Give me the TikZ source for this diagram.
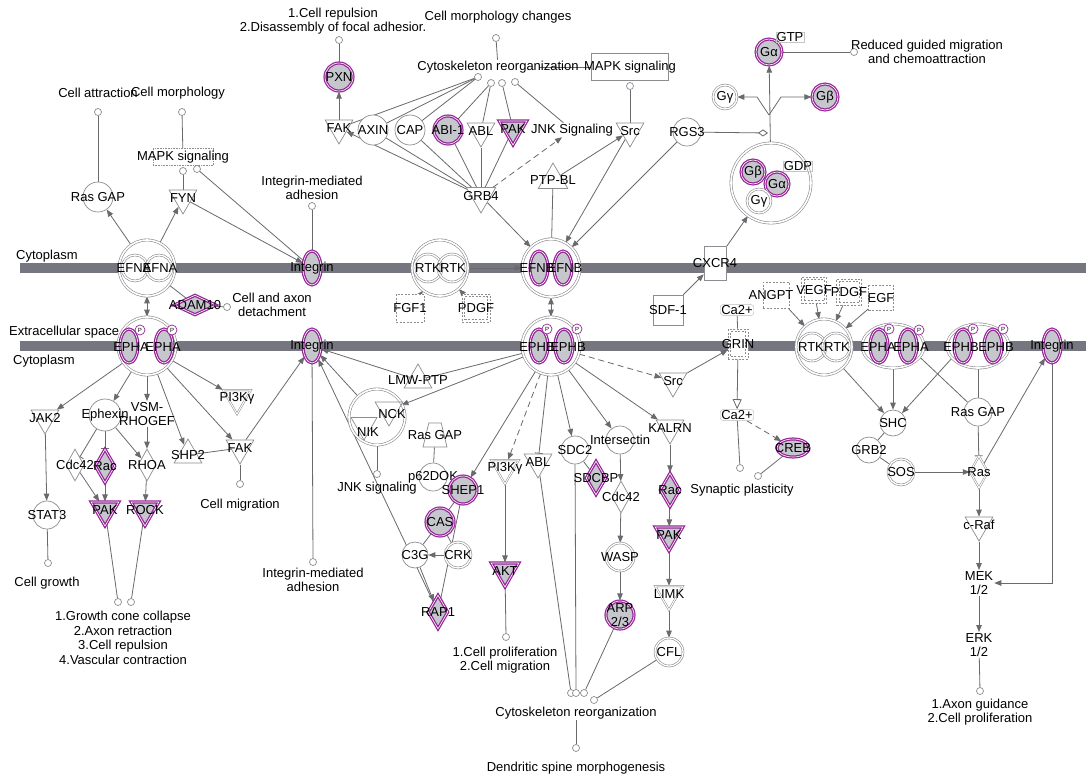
\documentclass[tikz,border=0pt]{standalone}
\usepackage{fontspec}
\setmainfont{Liberation Sans}
\usetikzlibrary{shapes.geometric,arrows.meta}
\definecolor{ngray}{RGB}{140,140,145}
\definecolor{egray}{RGB}{105,105,110}
\definecolor{purp}{RGB}{150,38,152}
\definecolor{fillg}{RGB}{198,198,205}
\definecolor{barc}{RGB}{118,118,128}
\newcommand\fs{\fontsize{13}{14.5}\selectfont}
\pgfdeclarelayer{bars}\pgfdeclarelayer{edges}\pgfsetlayers{bars,edges,main}
\begin{document}
\begin{tikzpicture}[x=1pt,y=-1pt,
  lbl/.style={inner sep=0pt, align=center, font=\fs, text=black},
  nl/.style={label={[lbl]center:#1}},
  txt/.style={inner sep=1pt, align=center, font=\fs, text=black},
  gc/.style={circle, draw=ngray, fill=white, line width=0.7pt, minimum size=#1, inner sep=0pt},
  gc/.default=28pt,
  dc/.style={gc=#1, double=white, double distance=1.3pt, line width=0.6pt},
  dc/.default=26pt,
  pc/.style={circle, draw=purp, fill=fillg, double=white, double distance=0.6pt, line width=1.25pt, minimum size=#1, inner sep=0pt},
  pc/.default=28pt,
  td/.style={regular polygon, regular polygon sides=3, shape border rotate=180, draw=ngray, fill=white, line width=0.7pt, minimum size=#1, inner sep=0pt},
  td/.default=34pt,
  tu/.style={regular polygon, regular polygon sides=3, draw=ngray, fill=white, line width=0.7pt, minimum size=#1, inner sep=0pt},
  tu/.default=34pt,
  ptd/.style={td=#1, draw=purp, fill=fillg, double=white, double distance=0.6pt, line width=1.25pt},
  ptd/.default=34pt,
  dm/.style={diamond, draw=ngray, fill=white, line width=0.7pt, minimum width=18pt, minimum height=32pt, inner sep=0pt},
  pdm/.style={dm, draw=purp, fill=fillg, double=white, double distance=0.6pt, line width=1.25pt, minimum width=20pt, minimum height=34pt},
  bx/.style={rectangle, draw=ngray, fill=white, line width=0.6pt, inner sep=0pt},
  ibx/.style={rectangle, draw=ngray, fill=none, line width=0.5pt, inner sep=0pt, dash pattern=on 2pt off 1.5pt},
  cx/.style={circle, draw=ngray, fill=white, line width=0.6pt, double=white, double distance=1.6pt, minimum size=#1, inner sep=0pt},
  cxe/.style={ellipse, draw=ngray, fill=white, line width=0.6pt, double=white, double distance=1.6pt, minimum width=62pt, minimum height=44pt, inner sep=0pt},
  pell/.style={ellipse, draw=purp, fill=fillg, double=white, double distance=0.6pt, line width=1.25pt, minimum width=18pt, minimum height=34pt, inner sep=0pt},
  pp/.style={circle, draw=purp, fill=white, line width=0.7pt, minimum size=10pt, inner sep=0pt, label={[inner sep=0pt, font=\fontsize{6}{6}\selectfont]center:P}},
  term/.style={circle, draw=ngray, fill=white, line width=0.7pt, minimum size=7pt, inner sep=0pt},
  rbx/.style={rectangle, rounded corners=3pt, draw=ngray!60, fill=white, inner sep=1pt, font=\fs},
  eL/.style={draw=egray, line width=0.8pt},
  eA/.style={eL, -{Triangle[length=7pt,width=5.5pt]}},
  eD/.style={eA, dash pattern=on 6pt off 4pt},
  eI/.style={eL, -{Bar[width=8pt]}},
  eB/.style={eL, {Triangle[length=7pt,width=5.5pt]}-{Triangle[length=7pt,width=5.5pt]}},
  eO/.style={eL, -{Triangle[open,length=10pt,width=9pt]}},
  eM/.style={eL, -{Diamond[open,length=10pt,width=7pt]}}
]
\useasboundingbox (0,0) rectangle (1088,780);
\begin{pgfonlayer}{bars}
\fill[white] (0,0) rectangle (1088,780);
\fill[barc] (20,263) rectangle (1086,273);
\fill[barc] (20,341) rectangle (1086,351);
\end{pgfonlayer}

% ---------- compartment labels
\node[txt, anchor=west] (cyt1) at (15,256) {Cytoplasm};
\node[txt, anchor=west] (ecs) at (8,332) {Extracellular space};
\node[txt, anchor=west] (cyt2) at (12,361) {Cytoplasm};

% ---------- top left
\node[txt] (tca) at (98,93) {Cell attraction};
\node[txt] (tcm) at (178,93) {Cell morphology};
\node[term] (oca) at (98,112) {};
\node[term] (ocm) at (182,112) {};
\node[gc=30pt, nl=Ras GAP] (rasgapL) at (98,197) {};
\node[bx, densely dotted, minimum width=60pt, minimum height=17pt, nl=MAPK signaling] (mapkL) at (183,157) {};
\node[term] (om1) at (183,171) {};
\node[term] (om2) at (197,169) {};
\node[td=32pt, nl=FYN] (fyn) at (183,198) {};
\node[txt] (tima) at (312,188) {Integrin-mediated\\adhesion};
\node[term] (oima) at (312,206) {};
\node[pell, nl=Integrin] (intT) at (312,268) {};

% EFNA complex
\node[cx=56pt] (efna) at (147,268) {};
\node[dc=26pt, fill=none] (efna1) at (135,268) {};
\node[dc=26pt, fill=none] (efna2) at (159,268) {};
\node[lbl] (efnal1) at (134,268) {EFNA};
\node[lbl] (efnal2) at (160,268) {EFNA};
\node[pdm, minimum width=42pt, minimum height=20pt, nl=ADAM10] (adam10) at (195,305) {};
\node[term] (ocad) at (227,307) {};
\node[txt] (tcad) at (272,305) {Cell and axon\\detachment};

% EPHA complex left
\node[cx=58pt] (epha) at (147,346) {};
\node[pell] (epha1) at (129,346) {};
\node[pell] (epha2) at (164,346) {};
\node[pp] (ephap1) at (140,330) {};
\node[pp] (ephap2) at (172,330) {};
\node[lbl] (ephal1) at (131,347) {EPHA};
\node[lbl] (ephal2) at (163,347) {EPHA};
\node[pell, nl=Integrin] (intB) at (312,346) {};

\node[td=32pt, nl=JAK2] (jak2) at (45,418) {};
\node[gc=32pt, nl=Ephexin] (ephexin) at (105,415) {};
\node[txt] (vsm) at (147,414) {VSM-\\RHOGEF};
\node[td=32pt, double=white, double distance=1pt, line width=0.5pt, nl=PI3Kγ] (pi3kL) at (237,398) {};
\node[tu=32pt, nl=SHP2] (shp2) at (188,455) {};
\node[td=32pt, nl=FAK] (fakL) at (240,448) {};
\node[term] (ocmig) at (240,484) {};
\node[txt] (tcmig) at (240,505) {Cell migration};
\node[dm, nl=Cdc42] (cdc42L) at (75,465) {};
\node[pdm, nl=Rac] (racL) at (105,466) {};
\node[dm, nl=RHOA] (rhoa) at (147,465) {};
\node[ptd=32pt, nl=PAK] (pakL) at (105,510) {};
\node[ptd=32pt, nl=ROCK] (rock) at (145,510) {};
\node[gc=28pt, nl=STAT3] (stat3) at (47,515) {};
\node[term] (ocg) at (48,563) {};
\node[txt] (tcg) at (47,583) {Cell growth};
\node[term] (og1) at (118,602) {};
\node[term] (og2) at (131,602) {};
\node[txt] (tgc) at (123,638) {1.Growth cone collapse\\2.Axon retraction\\3.Cell repulsion\\4.Vascular contraction};
\node[term] (oimb) at (313,562) {};
\node[txt] (timb) at (313,580) {Integrin-mediated\\adhesion};

% ---------- top middle
\node[txt] (tcr) at (333,21) {1.Cell repulsion\\2.Disassembly of focal adhesior.};
\node[term] (ocr) at (339,40) {};
\node[pc=28pt, nl=PXN] (pxn) at (339,77) {};
\node[td=32pt, nl=FAK] (fakT) at (339,128) {};
\node[gc=30pt, nl=AXIN] (axin) at (373,130) {};
\node[gc=30pt, nl=CAP] (cap) at (410,130) {};
\node[pc=28pt, nl=ABI-1] (abi1) at (448,130) {};
\node[td=32pt, nl=ABL] (ablT) at (481,131) {};
\node[ptd=32pt, nl=PAK] (pakT) at (513,129) {};
\node[txt] (jnkS) at (572,130) {JNK Signaling};
\node[td=32pt, nl=Src] (srcT) at (630,131) {};
\node[gc=28pt, nl=RGS3] (rgs3) at (687,132) {};
\node[tu=34pt, nl=PTP-BL] (ptpbl) at (553,180) {};
\node[td=34pt, nl=GRB4] (grb4) at (481,196) {};
\node[txt] (tcmc) at (498,17) {Cell morphology changes};
\node[term] (ocmc) at (496,38) {};
\node[txt] (cytoT) at (498,67) {Cytoskeleton reorganization};
\coordinate (cytoTm) at (540,67);
\node[bx, minimum width=77pt, minimum height=27pt, nl=MAPK signaling] (mapkT) at (630,67) {};
\node[term] (c1) at (478,77) {};
\node[term] (c2) at (491,83) {};
\node[term] (c3) at (502,83) {};
\node[term] (c4) at (515,82) {};
\node[term] (omapkT) at (630,86) {};

% ---------- G protein
\node[cx=80pt] (gcomp) at (771,183) {};
\node[pc=24pt, nl=Gβ] (gb1) at (753,172) {};
\node[pc=24pt, nl=Gα] (ga1) at (777,184) {};
\node[dc=24pt, nl=Gγ] (gg1) at (759,201) {};
\node[txt, draw=ngray!50, inner sep=0.5pt] (gdp) at (798,166) {GDP};
\node[pc=26pt, nl=Gα] (ga2) at (769,52) {};
\node[txt, draw=ngray!50, inner sep=0.5pt] (gtp) at (790,37) {GTP};
\coordinate (gbr) at (769,115);
\coordinate (gdia) at (768,133);
\node[dc=24pt, nl=Gγ] (gg2) at (725,97) {};
\node[pc=26pt, nl=Gβ] (gb2) at (825,97) {};
\node[term] (orgm) at (854,52) {};
\node[txt] (trgm) at (927,52) {Reduced guided migration\\and chemoattraction};

% ---------- membrane middle
\node[bx, minimum width=22pt, minimum height=34pt, nl=CXCR4] (cxcr4) at (715,263) {};
\node[bx, minimum width=30pt, minimum height=30pt, nl=SDF-1] (sdf1) at (668,310) {};
\node[bx, dash pattern=on 2pt off 1.5pt, minimum width=28pt, minimum height=28pt, nl=FGF1] (fgf1) at (410,308) {};
\node[bx, dash pattern=on 2pt off 1.5pt, minimum width=28pt, minimum height=28pt] (pdgfT) at (476,308) {};
\node[ibx, minimum width=23pt, minimum height=23pt, nl=PDGF] (pdgfTi) at (476,308) {};
\node[cx=56pt] (rtkT) at (440,268) {};
\node[dc=28pt, fill=none] (rtkT1) at (428,268) {};
\node[dc=28pt, fill=none] (rtkT2) at (452,268) {};
\node[lbl] (rtkTl1) at (428,268) {RTK};
\node[lbl] (rtkTl2) at (453,268) {RTK};
\node[cx=58pt] (efnb) at (551,268) {};
\node[pell] (efnb1) at (539,268) {};
\node[pell] (efnb2) at (563,268) {};
\node[lbl] (efnbl1) at (537,268) {EFNB};
\node[lbl] (efnbl2) at (565,268) {EFNB};
\node[cx=58pt] (ephb) at (551,346) {};
\node[pell] (ephb1) at (539,346) {};
\node[pell] (ephb2) at (564,346) {};
\node[pp] (ephbp1) at (547,329) {};
\node[pp] (ephbp2) at (577,329) {};
\node[lbl] (ephbl1) at (537,347) {EPHB};
\node[lbl] (ephbl2) at (568,347) {EPHB};

% ---------- Ca / GRIN
\node[rbx] (ca1) at (737,310) {Ca2+};
\node[bx, dash pattern=on 2pt off 1.5pt, minimum width=20pt, minimum height=30pt] (grin) at (738,344) {};
\node[ibx, minimum width=15pt, minimum height=25pt, nl=GRIN] (grini) at (738,344) {};
\node[rbx] (ca2) at (737,415) {Ca2+};
\node[pell, minimum width=32pt, minimum height=18pt, nl=CREB] (creb) at (793,448) {};
\node[term] (osp1) at (740,468) {};
\node[term] (osp2) at (758,476) {};
\node[txt] (tsp) at (742,490) {Synaptic plasticity};
\node[td=32pt, nl=Src] (srcB) at (673,381) {};
\node[td=32pt, nl=KALRN] (kalrn) at (670,428) {};
\node[pdm, nl=Rac] (racM) at (670,490) {};
\node[ptd=32pt, nl=PAK] (pakM) at (669,535) {};
\node[td=32pt, double=white, double distance=1pt, line width=0.5pt, nl=LIMK] (limk) at (669,594) {};
\node[dc=28pt, nl=CFL] (cfl) at (669,652) {};

% ---------- right side
\node[bx, dash pattern=on 2pt off 1.5pt, minimum width=26pt, minimum height=26pt] (angpt) at (776,295) {};
\node[lbl] (angptl) at (771,295) {ANGPT};
\node[bx, dash pattern=on 2pt off 1.5pt, minimum width=25pt, minimum height=26pt] (vegf) at (814,290) {};
\node[ibx, minimum width=20pt, minimum height=21pt, nl=VEGF] (vegfi) at (814,290) {};
\node[bx, dash pattern=on 2pt off 1.5pt, minimum width=25pt, minimum height=26pt] (pdgfR) at (849,292) {};
\node[ibx, minimum width=20pt, minimum height=21pt, nl=PDGF] (pdgfRi) at (849,292) {};
\node[bx, dash pattern=on 2pt off 1.5pt, minimum width=25pt, minimum height=25pt, nl=EGF] (egf) at (881,298) {};
\node[cx=56pt] (rtkR) at (824,347) {};
\node[dc=28pt, fill=none] (rtkR1) at (812,347) {};
\node[dc=28pt, fill=none] (rtkR2) at (836,347) {};
\node[lbl] (rtkRl1) at (811,347) {RTK};
\node[lbl] (rtkRl2) at (837,347) {RTK};
\node[cxe] (ephaR) at (893,346) {};
\node[pell] (ephaR1) at (879,346) {};
\node[pell] (ephaR2) at (908,346) {};
\node[pp] (ephaRp1) at (889,329) {};
\node[pp] (ephaRp2) at (919,330) {};
\node[lbl] (ephaRl1) at (878,347) {EPHA};
\node[lbl] (ephaRl2) at (911,347) {EPHA};
\node[cxe] (ephbR) at (978,346) {};
\node[pell] (ephbR1) at (963,346) {};
\node[pell] (ephbR2) at (993,346) {};
\node[pp] (ephbRp1) at (973,329) {};
\node[pp] (ephbRp2) at (1003,329) {};
\node[lbl] (ephbRl1) at (961,347) {EPHB};
\node[lbl] (ephbRl2) at (996,347) {EPHB};
\node[pell, nl=Integrin] (intR) at (1052,346) {};
\node[gc=26pt, nl=SHC] (shc) at (893,423) {};
\node[gc=28pt, nl=Ras GAP] (rasgapR) at (978,412) {};
\node[gc=26pt, nl=GRB2] (grb2) at (869,450) {};
\node[dc=26pt, nl=SOS] (sos) at (901,472) {};
\node[dm, double=white, double distance=1pt, line width=0.5pt, nl=Ras] (ras) at (979,472) {};
\node[td=32pt, nl=c-Raf] (craf) at (979,525) {};
\node[txt] (mek) at (979,583) {MEK\\1/2};
\node[txt] (erk) at (979,645) {ERK\\1/2};
\node[term] (oag) at (980,691) {};
\node[txt] (tag) at (980,712) {1.Axon guidance\\2.Cell proliferation};

% ---------- middle lower
\node[tu=32pt, nl=LMW-PTP] (lmw) at (418,380) {};
\node[cx=56pt] (nckc) at (377,417) {};
\node[td=32pt, fill=none] (nck) at (389,410) {};
\node[td=30pt, fill=none] (nik) at (364,425) {};
\node[lbl] (nckl) at (392,414) {NCK};
\node[lbl] (nikl) at (368,432) {NIK};
\node[term] (ojnk) at (377,474) {};
\node[txt] (tjnk) at (377,488) {JNK signaling};
\node[trapezium, trapezium left angle=65, trapezium right angle=65, trapezium stretches=true, draw=ngray, fill=white, line width=0.7pt, minimum width=24pt, minimum height=24pt, inner sep=3pt, nl=Ras GAP] (rasgapM) at (435,435) {};
\node[gc=28pt, nl=p62DOK] (p62) at (433,477) {};
\node[pc=28pt, nl=SHEP1] (shep1) at (463,490) {};
\node[pc=28pt, nl=CAS] (cas) at (440,522) {};
\node[gc=26pt, nl=C3G] (c3g) at (415,555) {};
\node[dc=26pt, nl=CRK] (crk) at (458,555) {};
\node[pdm, nl=RAP1] (rap1) at (438,612) {};
\node[td=32pt, double=white, double distance=1pt, line width=0.5pt, nl=PI3Kγ] (pi3kM) at (505,468) {};
\node[ptd=32pt, nl=AKT] (akt) at (505,571) {};
\node[term] (ocp) at (506,637) {};
\node[txt] (tcp) at (505,660) {1.Cell proliferation\\2.Cell migration};
\node[td=32pt, nl=ABL] (ablM) at (538,462) {};
\node[gc=28pt, nl=SDC2] (sdc2) at (575,450) {};
\node[gc=28pt, nl=Intersectin] (inters) at (620,440) {};
\node[pdm, nl=SDCBP] (sdcbp) at (596,478) {};
\node[dm, nl=Cdc42] (cdc42M) at (621,497) {};
\node[dc=28pt, nl=WASP] (wasp) at (620,557) {};
\node[pc=28pt, nl=ARP\\2/3] (arp) at (620,615) {};
\node[term] (b1) at (571,693) {};
\node[term] (b2) at (576,693) {};
\node[term] (b3) at (584,693) {};
\node[term] (b4) at (594,700) {};
\node[txt] (cytoB) at (576,713) {Cytoskeleton reorganization};
\node[term] (odsm) at (576,748) {};
\node[txt] (tdsm) at (576,768) {Dendritic spine morphogenesis};

% ================= edges
\begin{pgfonlayer}{edges}
\draw[eL] (rasgapL) -- (oca);
\draw[eL] (mapkL) -- (ocm);
\draw[eL] (fyn) -- (om1);
\draw[eL] (intT) -- (om2);
\draw[eA] (efna) -- (rasgapL);
\draw[eA] (efna) -- (fyn);
\draw[eA] (fyn) -- (intT);
\draw[eL] (intT) -- (oima);
\draw[eI] (adam10) -- (efna);
\draw[eL] (adam10) -- (ocad);
\draw[eB] (efna) -- (epha);
\draw[eA] (epha) -- (jak2);
\draw[eA] (epha) -- (ephexin);
\draw[eA] (epha) -- (vsm);
\draw[eA] (epha) -- (shp2);
\draw[eA] (epha) -- (fakL);
\draw[eA] (epha) -- (pi3kL);
\draw[eA] (jak2) -- (stat3);
\draw[eL] (stat3) -- (ocg);
\draw[eI] (ephexin) -- (cdc42L);
\draw[eI] (ephexin) -- (racL);
\draw[eA] (ephexin) -- (rhoa);
\draw[eA] (vsm) -- (rhoa);
\draw[eA] (cdc42L) -- (pakL);
\draw[eA] (racL) -- (pakL);
\draw[eA] (rhoa) -- (rock);
\draw[eL] (pakL) -- (og1);
\draw[eL] (rock) -- (og2);
\draw[eL] (shp2) -- (fakL);
\draw[eL] (fakL) -- (ocmig);
\draw[eA] (fakL) -- (intB);
\draw[eL] (intB) -- (oimb);
\draw[eL] (pxn) -- (ocr);
\draw[eA] (fakT) -- (pxn);
\draw[eA] (grb4) -- (fakT);
\draw[eL] (grb4) -- (axin);
\draw[eL] (grb4) -- (cap);
\draw[eL] (grb4) -- (abi1);
\draw[eL] (grb4) -- (ablT);
\draw[eL] (grb4) -- (pakT);
\draw[eD] (grb4) -- (jnkS);
\draw[eL] (fakT) -- (c1);
\draw[eL] (axin) -- (c1);
\draw[eL] (cap) -- (c1);
\draw[eL] (abi1) -- (c2);
\draw[eL] (ablT) -- (c2);
\draw[eL] (pakT) -- (c3);
\draw[eL] (jnkS) -- (c4);
\draw[eL] (cytoT) -- (ocmc);
\draw[eL] (cytoTm) -- (mapkT);
\draw[eL] (srcT) -- (omapkT);
\draw[eA] (ptpbl) -- (srcT);
\draw[eI] (ptpbl) -- (efnb);
\draw[eA] (srcT) -- (efnb);
\draw[eA] (rgs3) -- (efnb);
\draw[eA] (grb4) -- (efnb);
\draw[eA] (rtkT) -- (efnb);
\draw[eA] (fgf1) -- (rtkT);
\draw[eA] (pdgfT) -- (rtkT);
\draw[eB] (efnb) -- (ephb);
\draw[eM] (rgs3) -- (gdia);
\draw[eA] (sdf1) -- (cxcr4);
\draw[eA] (cxcr4) -- (gcomp);
\draw[eA] (gcomp) -- (ga2);
\draw[eA] (gbr) -- ++(-12,-18) -- (gg2);
\draw[eA] (gbr) -- ++(12,-18) -- (gb2);
\draw[eL] (ga2) -- (orgm);
\draw[eL] (ephb) -- (lmw);
\draw[eA] (lmw) -- (intB);
\draw[eA] (nckc) -- (intB);
\draw[eA] (rap1) -- (intB);
\draw[eA] (ephb) -- (nck);
\draw[eL] (nckc) -- (ojnk);
\draw[eL] (rasgapM) -- (p62);
\draw[eA] (ephb) -- (shep1);
\draw[eL] (shep1) -- (cas);
\draw[eL] (shep1) -- (rap1);
\draw[eL] (cas) -- (c3g);
\draw[eL] (cas) -- (crk);
\draw[eA] (crk) -- (c3g);
\draw[eA] (c3g) -- (rap1);
\draw[eD] (ephb) -- (pi3kM);
\draw[eA] (pi3kM) -- (akt);
\draw[eL] (akt) -- (ocp);
\draw[eI] (ephb) -- (ablM);
\draw[eL] (ablM) -- (b1);
\draw[eA] (ephb) -- (sdc2);
\draw[eL] (sdc2) -- (b2);
\draw[eL] (sdc2) -- (sdcbp);
\draw[eA] (ephb) -- (inters);
\draw[eA] (inters) -- (cdc42M);
\draw[eA] (cdc42M) -- (wasp);
\draw[eA] (wasp) -- (arp);
\draw[eL] (arp) -- (b3);
\draw[eD] (ephb) -- (srcB);
\draw[eA] (srcB) -- (grin);
\draw[eA] (ephb) -- (kalrn);
\draw[eA] (kalrn) -- (racM);
\draw[eA] (racM) -- (pakM);
\draw[eA] (pakM) -- (limk);
\draw[eA] (limk) -- (cfl);
\draw[eL] (cfl) -- (b4);
\draw[eL] (cytoB) -- (odsm);
\draw[eL] (ca1) -- (grin);
\draw[eO] (grin) -- (ca2);
\draw[eD] (ca2) -- (creb);
\draw[eL] (ca2) -- (osp1);
\draw[eL] (creb) -- (osp2);
\draw[eA] (angpt) -- (rtkR);
\draw[eA] (vegf) -- (rtkR);
\draw[eA] (pdgfR) -- (rtkR);
\draw[eA] (egf) -- (rtkR);
\draw[eA] (rtkR) -- (shc);
\draw[eA] (ephaR) -- (shc);
\draw[eA] (ephbR1) -- (shc);
\draw[eL] (ephaR2) -- (rasgapR);
\draw[eL] (ephbR) -- (rasgapR);
\draw[eI] (rasgapR) -- (ras);
\draw[eL] (shc) -- (grb2);
\draw[eL] (grb2) -- (sos);
\draw[eA] (sos) -- (ras);
\draw[eA] (ras) -- (intR);
\draw[eA] (ras) -- (craf);
\draw[eA] (craf) -- (mek);
\draw[eA] (mek) -- (erk);
\draw[eL] (erk) -- (oag);
\draw[eA] (intR) |- (mek);
\end{pgfonlayer}
\end{tikzpicture}
\end{document}
